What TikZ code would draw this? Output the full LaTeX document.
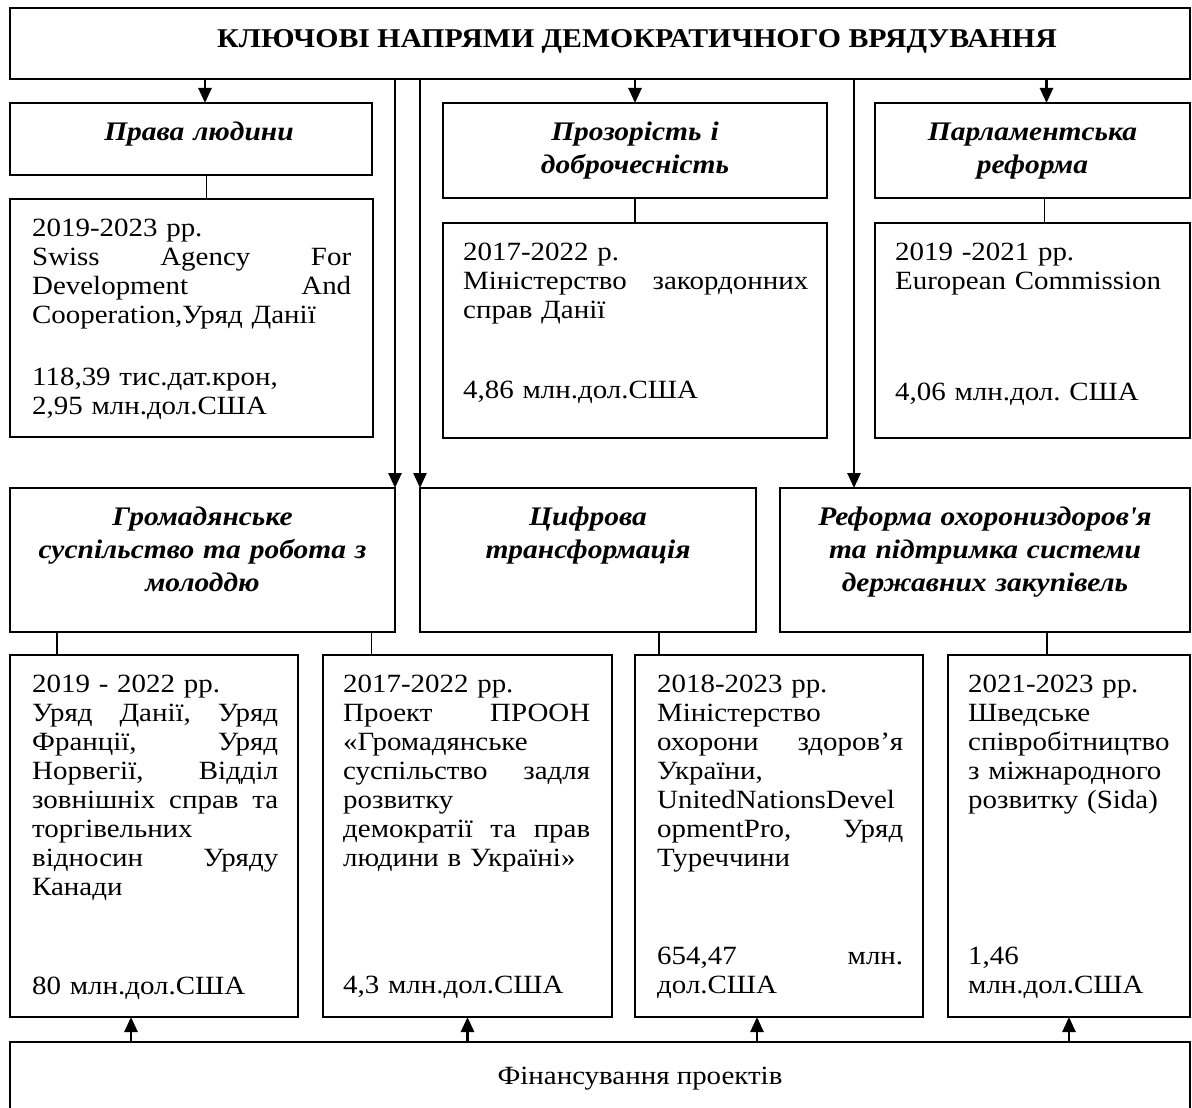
\documentclass[tikz,border=0pt]{standalone}
\usepackage{fontspec}
\setmainfont{Liberation Serif}[FakeStretch=1.1]
\usetikzlibrary{arrows.meta}
\hyphenpenalty=10000
\exhyphenpenalty=10000
\frenchspacing

\tikzset{
	frame/.style={draw, line width=1.8pt, inner sep=0pt, outer sep=0pt, anchor=north west},
	titletext/.style={inner sep=0pt, anchor=base, font=\fontsize{27.1pt}{29pt}\selectfont\bfseries},
	headtext/.style={inner sep=0pt, anchor=base, align=center, font=\fontsize{26.8pt}{33pt}\selectfont\bfseries\itshape},
	bodytext/.style={inner sep=0pt, anchor=base west, font=\fontsize{26.3pt}{29pt}\selectfont},
	link/.style={line width=1.5pt},
	feed/.style={line width=2.6pt, -{Triangle[width=13pt,length=15pt]}},
}

\begin{document}
\begin{tikzpicture}[x=1pt, y=-1pt]
	\useasboundingbox (0,0) rectangle (1192,1108);
	\clip (0,0) rectangle (1192,1108);
	
	% frames
	\node[frame, minimum width=1180pt, minimum height=71pt]  (goal)    at (10,8)    {};
	\node[frame, minimum width=362pt,  minimum height=72pt]  (hrights) at (10,103)  {};
	\node[frame, minimum width=384pt,  minimum height=95pt]  (htransp) at (443,103) {};
	\node[frame, minimum width=315pt,  minimum height=95pt]  (hparl)   at (875,103) {};
	\node[frame, minimum width=363pt,  minimum height=238pt] (irights) at (10,199)  {};
	\node[frame, minimum width=384pt,  minimum height=215pt] (itransp) at (443,223) {};
	\node[frame, minimum width=315pt,  minimum height=215pt] (iparl)   at (875,223) {};
	\node[frame, minimum width=385pt,  minimum height=144pt] (hcivil)  at (10,488)  {};
	\node[frame, minimum width=336pt,  minimum height=144pt] (hdigit)  at (420,488) {};
	\node[frame, minimum width=410pt,  minimum height=144pt] (hhealth) at (780,488) {};
	\node[frame, minimum width=288pt,  minimum height=362pt] (icivil)  at (10,655)  {};
	\node[frame, minimum width=289pt,  minimum height=362pt] (iundp)   at (323,655) {};
	\node[frame, minimum width=288pt,  minimum height=362pt] (ihealth) at (635,655) {};
	\node[frame, minimum width=242pt,  minimum height=362pt] (isida)   at (948,655) {};
	\node[frame, minimum width=1180pt, minimum height=80pt]  (fund)    at (10,1042) {};
	
	% texts
	\node[titletext] (goalT) at ([shift={(37pt,-40pt)}]goal.north) {КЛЮЧОВІ НАПРЯМИ ДЕМОКРАТИЧНОГО ВРЯДУВАННЯ};
	
	\node[headtext, text width=330pt] (hrightsT) at ([shift={(8pt,-37pt)}]hrights.north) {Права людини};
	\node[headtext, text width=360pt] (htranspT) at ([yshift=-37pt]htransp.north) {Прозорість і\\доброчесність};
	\node[headtext, text width=290pt] (hparlT)   at ([yshift=-37pt]hparl.north)   {Парламентська\\реформа};
	\node[headtext, text width=360pt] (hcivilT)  at ([yshift=-37pt]hcivil.north)  {Громадянське\\суспільство та робота з\\молоддю};
	\node[headtext, text width=310pt] (hdigitT)  at ([yshift=-37pt]hdigit.north)  {Цифрова\\трансформація};
	\node[headtext, text width=390pt] (hhealthT) at ([yshift=-37pt]hhealth.north) {Реформа охоронизд{}оров\textquotesingle я\\та підтримка системи\\державних закупівель};
	
	\node[bodytext, text width=319pt] (irightsT) at ([shift={(22pt,-37pt)}]irights.north west) {2019-2023 рр.\\Swiss\hfill Agency\hfill For\\Development\hfill And\\Cooperation,Уряд Данії};
	\node[bodytext, text width=319pt] (irightsS) at ([shift={(22pt,-186pt)}]irights.north west) {118,39 тис.дат.крон,\\2,95 млн.дол.США};
	
	\node[bodytext, text width=345pt] (itranspT) at ([shift={(20pt,-37pt)}]itransp.north west) {2017-2022 р.\\Міністерство\hfill закордонних\\справ Данії};
	\node[bodytext, text width=345pt] (itranspS) at ([shift={(20pt,-175pt)}]itransp.north west) {4,86 млн.дол.США};
	
	\node[bodytext, text width=275pt] (iparlT) at ([shift={(20pt,-37pt)}]iparl.north west) {2019 -2021 рр.\\European Commission};
	\node[bodytext, text width=275pt] (iparlS) at ([shift={(20pt,-177pt)}]iparl.north west) {4,06 млн.дол. США};
	
	\node[bodytext, text width=246pt] (icivilT) at ([shift={(22pt,-37pt)}]icivil.north west) {2019 - 2022 рр.\\Уряд\hfill Данії,\hfill Уряд\\Франції,\hfill Уряд\\Норвегії,\hfill Відділ\\зовнішніх\hfill справ\hfill та\\торгівельних\\відносин\hfill Уряду\\Канади};
	\node[bodytext, text width=246pt] (icivilS) at ([shift={(22pt,-339pt)}]icivil.north west) {80 млн.дол.США};
	
	\node[bodytext, text width=247pt] (iundpT) at ([shift={(20pt,-37pt)}]iundp.north west) {2017-2022 рр.\\Проект\hfill ПРООН\\«Громадянське\\суспільство\hfill задля\\розвитку\\демократії\hfill та\hfill прав\\людини в Україні»};
	\node[bodytext, text width=247pt] (iundpS) at ([shift={(20pt,-338pt)}]iundp.north west) {4,3 млн.дол.США};
	
	\node[bodytext, text width=246pt] (ihealthT) at ([shift={(22pt,-37pt)}]ihealth.north west) {2018-2023 рр.\\Міністерство\\охорони\hfill здоров’я\\України,\\UnitedNationsDevel\\opmentPro,\hfill Уряд\\Туреччини};
	\node[bodytext, text width=246pt] (ihealthS) at ([shift={(22pt,-309pt)}]ihealth.north west) {654,47\hfill млн.\\дол.США};
	
	\node[bodytext, text width=200pt] (isidaT) at ([shift={(20pt,-37pt)}]isida.north west) {2021-2023 рр.\\Шведське\\співробітництво\\з міжнародного\\розвитку (Sida)};
	\node[bodytext, text width=200pt] (isidaS) at ([shift={(20pt,-309pt)}]isida.north west) {1,46\\млн.дол.США};
	
	\node[bodytext, anchor=base] (fundT) at ([shift={(40pt,-42pt)}]fund.north) {Фінансування проектів};
	
	% connector points
	\coordinate (aRights) at ([xshift=14pt]hrights.north);
	\coordinate (aParl)   at ([xshift=14pt]hparl.north);
	\coordinate (aHealth) at ([xshift=-131pt]hhealth.north);
	\coordinate (lRights) at ([xshift=15pt]irights.north);
	\coordinate (lParl)   at ([xshift=12pt]iparl.north);
	\coordinate (lCivil)  at ([xshift=-97pt]icivil.north);
	\coordinate (lUndp)   at ([xshift=-96pt]iundp.north);
	\coordinate (lHealth) at ([xshift=-120pt]ihealth.north);
	\coordinate (lSida)   at ([xshift=-22pt]isida.north);
	\coordinate (fCivil)  at ([xshift=-23pt]icivil.south);
	\coordinate (fHealth) at ([xshift=-22pt]ihealth.south);
	
	\draw[feed] (goal.south -| aRights) -- (aRights);
	\draw[feed] (goal.south -| htransp.north) -- (htransp.north);
	\draw[feed] (goal.south -| aParl) -- (aParl);
	\draw[feed] (goal.south -| hcivil.north east) -- (hcivil.north east);
	\draw[feed] (goal.south -| hdigit.north west) -- (hdigit.north west);
	\draw[feed] (goal.south -| aHealth) -- (aHealth);
	
	\draw[link] (lRights |- hrights.south) -- (lRights);
	\draw[link] (htransp.south) -- (itransp.north);
	\draw[link] (lParl |- hparl.south) -- (lParl);
	\draw[link] (lCivil |- hcivil.south) -- (lCivil);
	\draw[link] (lUndp |- hcivil.south) -- (lUndp);
	\draw[link] (lHealth |- hdigit.south) -- (lHealth);
	\draw[link] (lSida |- hhealth.south) -- (lSida);
	
	\draw[feed] (fund.north -| fCivil) -- (fCivil);
	\draw[feed] (fund.north -| iundp.south) -- (iundp.south);
	\draw[feed] (fund.north -| fHealth) -- (fHealth);
	\draw[feed] (fund.north -| isida.south) -- (isida.south);
\end{tikzpicture}
\end{document}
